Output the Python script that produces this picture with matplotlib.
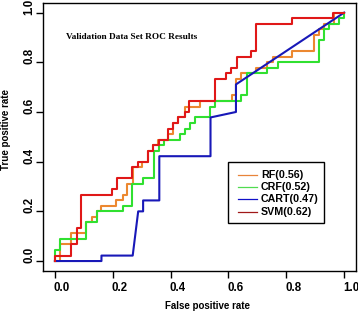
import matplotlib
matplotlib.use("Agg")
import matplotlib.pyplot as plt
from matplotlib.patches import Rectangle
from matplotlib.transforms import ScaledTranslation

plt.rcParams["font.family"] = ["Liberation Sans", "DejaVu Sans"]

# model names, AUC values and colours (legend order)
models = ["RF", "CRF", "CART", "SVM"]
auc = [0.56, 0.52, 0.47, 0.62]
colors = ["#EC8830", "#30E030", "#1818B8", "#E01818"]
legend_colors = ["#E8843A", "#50DC50", "#1010C8", "#A01818"]

# ROC corner points
rf_fpr = [0, 0.017, 0.017, 0.054, 0.054, 0.107, 0.107, 0.127, 0.127, 0.144, 0.144, 0.161, 0.161,
          0.213, 0.213, 0.234, 0.234, 0.249, 0.249, 0.269, 0.269, 0.301, 0.301, 0.321, 0.321,
          0.339, 0.339, 0.356, 0.356, 0.391, 0.391, 0.408, 0.408, 0.425, 0.425, 0.449, 0.449,
          0.501, 0.501, 0.611, 0.611, 0.626, 0.626, 0.645, 0.645, 0.697, 0.697, 0.732, 0.732,
          0.753, 0.753, 0.821, 0.821, 0.896, 0.896, 0.913, 0.913, 0.931, 0.931, 0.965, 0.965, 1.0]
rf_tpr = [0, 0, 0.067, 0.067, 0.111, 0.111, 0.156, 0.156, 0.178, 0.178, 0.2, 0.2, 0.222,
          0.222, 0.244, 0.244, 0.267, 0.267, 0.311, 0.311, 0.378, 0.378, 0.4, 0.4, 0.444,
          0.444, 0.467, 0.467, 0.489, 0.489, 0.511, 0.511, 0.556, 0.556, 0.578, 0.578, 0.622,
          0.622, 0.644, 0.644, 0.667, 0.667, 0.733, 0.733, 0.756, 0.756, 0.778, 0.778, 0.8,
          0.8, 0.822, 0.822, 0.844, 0.844, 0.911, 0.911, 0.933, 0.933, 0.956, 0.956, 1.0, 1.0]

crf_fpr = [0, 0, 0.017, 0.017, 0.107, 0.107, 0.144, 0.144, 0.236, 0.236, 0.267, 0.267, 0.303,
           0.303, 0.342, 0.342, 0.361, 0.361, 0.378, 0.378, 0.432, 0.432, 0.449, 0.449, 0.467,
           0.467, 0.484, 0.484, 0.536, 0.536, 0.553, 0.553, 0.645, 0.645, 0.663, 0.663, 0.735,
           0.735, 0.770, 0.770, 0.912, 0.912, 0.929, 0.929, 0.949, 0.949, 0.982, 0.982, 1.0, 1.0]
crf_tpr = [0, 0.044, 0.044, 0.089, 0.089, 0.156, 0.156, 0.2, 0.2, 0.222, 0.222, 0.311, 0.311,
           0.333, 0.333, 0.444, 0.444, 0.467, 0.467, 0.489, 0.489, 0.511, 0.511, 0.533, 0.533,
           0.556, 0.556, 0.578, 0.578, 0.622, 0.622, 0.644, 0.644, 0.667, 0.667, 0.756, 0.756,
           0.778, 0.778, 0.8, 0.8, 0.889, 0.889, 0.933, 0.933, 0.956, 0.956, 0.978, 0.978, 1.0]

cart_fpr = [0, 0.161, 0.161, 0.269, 0.288, 0.305, 0.305, 0.361, 0.361, 0.538, 0.538, 0.626, 0.626, 1.0]
cart_tpr = [0, 0, 0.022, 0.022, 0.2, 0.2, 0.244, 0.244, 0.422, 0.422, 0.578, 0.6, 0.711, 1.0]

svm_fpr = [0, 0, 0.054, 0.054, 0.075, 0.075, 0.092, 0.092, 0.197, 0.197, 0.214, 0.214, 0.266,
           0.266, 0.287, 0.287, 0.321, 0.321, 0.339, 0.339, 0.359, 0.359, 0.391, 0.391, 0.408,
           0.408, 0.425, 0.425, 0.449, 0.449, 0.463, 0.463, 0.553, 0.553, 0.591, 0.591, 0.608,
           0.608, 0.628, 0.628, 0.678, 0.678, 0.697, 0.697, 0.820, 0.820, 0.962, 0.962, 1.0]
svm_tpr = [0, 0.022, 0.022, 0.067, 0.067, 0.133, 0.133, 0.267, 0.267, 0.289, 0.289, 0.333, 0.333,
           0.378, 0.378, 0.4, 0.4, 0.444, 0.444, 0.467, 0.467, 0.489, 0.489, 0.533, 0.533,
           0.556, 0.556, 0.578, 0.578, 0.6, 0.6, 0.644, 0.644, 0.733, 0.733, 0.756, 0.756,
           0.778, 0.778, 0.822, 0.822, 0.844, 0.844, 0.956, 0.956, 0.978, 0.978, 1.0, 1.0]

curves = [(rf_fpr, rf_tpr), (crf_fpr, crf_tpr), (cart_fpr, cart_tpr), (svm_fpr, svm_tpr)]
ticks = [0.0, 0.2, 0.4, 0.6, 0.8, 1.0]

fig = plt.figure(figsize=(3.58, 3.14), dpi=100)
ax = fig.add_axes([0.121, 0.137, 0.8726, 0.8545])

for (fpr, tpr), c in zip(curves, colors):
    ax.plot(fpr, tpr, color=c, lw=1.5)

ax.set_xlim(-0.04, 1.04)
ax.set_ylim(-0.04, 1.04)
ax.set_xticks(ticks, [f"{t:.1f}" for t in ticks])
ax.set_yticks(ticks, [f"{t:.1f}" for t in ticks])
for s in ax.spines.values():
    s.set_linewidth(1.0)
ax.tick_params(length=5, width=1.0, labelsize=8.3)
ax.tick_params(axis="x", pad=2.7)
ax.tick_params(axis="y", pad=0.5, labelrotation=90)
for lab in ax.get_xticklabels() + ax.get_yticklabels():
    lab.set_fontweight("bold")
for lab in ax.get_yticklabels():
    lab.set_va("center")

# the text in the original sits a few pixels off its ticks
for t in ax.xaxis.get_major_ticks():
    t.label1.set_transform(t.label1.get_transform() + ScaledTranslation(0.07, 0, fig.dpi_scale_trans))
for t in ax.yaxis.get_major_ticks():
    t.label1.set_transform(t.label1.get_transform() + ScaledTranslation(0, 0.06, fig.dpi_scale_trans))

ax.set_xlabel("False positive rate", fontsize=7, fontweight="bold", va="center")
ax.xaxis.set_label_coords(0.527, -0.130)
ax.set_ylabel("True positive rate", fontsize=7, fontweight="bold", va="center")
ax.yaxis.set_label_coords(-0.121, 0.5255)

ax.text(0.04, 0.90, "Validation Data Set ROC Results", family="Liberation Serif",
        fontweight="bold", fontsize=6.7, ha="left", va="center")

# legend box drawn by hand
ax.add_patch(Rectangle((0.592, 0.178), 0.3075, 0.2295, transform=ax.transAxes,
                       facecolor="white", edgecolor="black", lw=1.0, zorder=5))
for i, (m, a, c) in enumerate(zip(models, auc, legend_colors)):
    y = 0.358 - i * 0.0456
    ax.plot([0.624, 0.683], [y, y], transform=ax.transAxes, color=c, lw=0.9, zorder=6)
    ax.text(0.697, y, f"{m}({a:.2f})", transform=ax.transAxes, fontsize=7.7,
            fontweight="bold", ha="left", va="center", zorder=6)

fig.savefig("out.png", dpi=100)
